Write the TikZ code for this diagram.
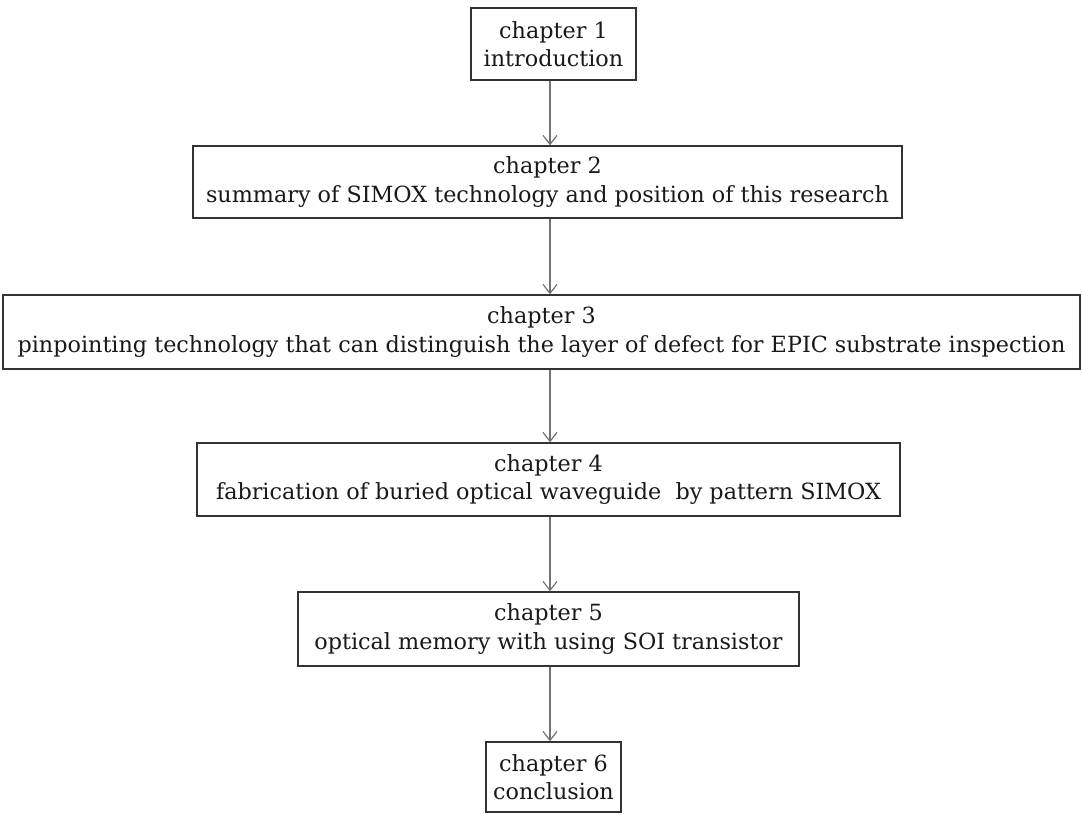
\documentclass[tikz,border=0pt]{standalone}
\usepackage{fontspec}
\setmainfont{DejaVu Serif}
\usetikzlibrary{arrows.meta}
\begin{document}
\begin{tikzpicture}[x=1pt,y=-1pt,
  chapbox/.style={draw=black!80, line width=1.3pt, fill=white, inner sep=0pt,
    align=center, font=\fontsize{22.3}{28.5}\selectfont, text=black!90},
  arr/.style={draw=black!55, line width=1.2pt, -{Straight Barb[length=9pt,width=14pt,line width=1.2pt]}}]
\useasboundingbox (0,0) rectangle (1082,814);
\coordinate (ax) at (550,0);
\node[chapbox, minimum width=165pt, minimum height=72pt] (b1) at (553.5,44) {chapter 1\\introduction};
\node[chapbox, minimum width=709pt, minimum height=72pt] (b2) at (547.5,182) {chapter 2\\summary of SIMOX technology and position of this research};
\node[chapbox, minimum width=1077pt, minimum height=74pt] (b3) at (541.5,332) {chapter 3\\pinpointing technology that can distinguish the layer of defect for EPIC substrate inspection};
\node[chapbox, minimum width=703pt, minimum height=73pt] (b4) at (548.5,479.5) {chapter 4\\fabrication of buried optical waveguide\ \ by pattern SIMOX};
\node[chapbox, minimum width=501pt, minimum height=74pt] (b5) at (548.5,629) {chapter 5\\optical memory with using SOI transistor};
\node[chapbox, minimum width=135pt, minimum height=70pt] (b6) at (553.5,777) {chapter 6\\conclusion};
\draw[arr] (b1.south -| ax) -- (b2.north -| ax);
\draw[arr] (b2.south -| ax) -- (b3.north -| ax);
\draw[arr] (b3.south -| ax) -- (b4.north -| ax);
\draw[arr] (b4.south -| ax) -- (b5.north -| ax);
\draw[arr] (b5.south -| ax) -- (b6.north -| ax);
\end{tikzpicture}
\end{document}
